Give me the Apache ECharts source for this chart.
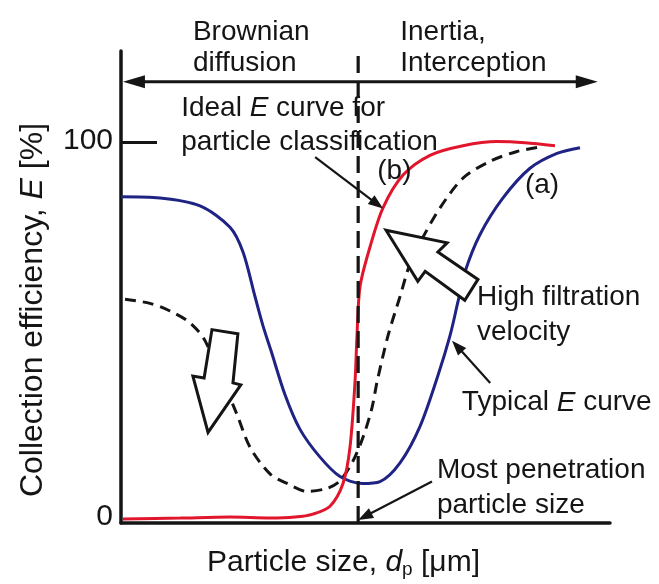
<!DOCTYPE html>
<html>
<head>
<meta charset="utf-8">
<script src="https://cdn.jsdelivr.net/npm/echarts@6/dist/echarts.min.js"></script>
<style>html,body{margin:0;padding:0;background:#fff}#c{width:659px;height:584px}</style>
</head>
<body>
<div id="c"></div>
<script>
// ---- Data (arbitrary particle-size units 0..100, efficiency %) ----
const typicalX = [0, 7.98, 16.16, 22.29, 24.95, 27.40, 29.04, 30.67, 33.54, 36.61, 40.70, 44.79, 49.28, 52.97, 57.06, 61.15, 64.83, 67.28, 68.92, 70.35, 73.42, 78.12, 83.64, 89.16, 93.87];
const typicalE = [85.7, 85.4, 83.3, 77.7, 71.2, 59.5, 51.8, 45.3, 33.7, 24.6, 17.3, 12.2, 10.4, 10.9, 15.8, 25.4, 38.8, 49.2, 58.2, 66.0, 75.8, 85.4, 93.2, 97.1, 98.6];

const idealX = [0.41, 12.07, 22.29, 30.47, 35.58, 39.26, 42.74, 45.40, 46.83, 47.85, 48.26, 48.88, 50.92, 53.58, 57.67, 63.19, 69.94, 76.89, 82.62, 88.75];
const idealE = [1.04, 1.29, 1.55, 1.29, 1.55, 2.33, 4.40, 10.35, 19.93, 37.0, 49.2, 62.1, 72.5, 82.8, 91.4, 96.6, 99.1, 100.2, 99.9, 99.1];

const highVelX = [0.82, 5.93, 10.02, 14.11, 17.18, 23.72, 26.38, 30.47, 33.95, 38.04, 42.13, 44.79, 47.44, 49.49, 51.33, 52.35, 54.60, 57.06, 59.10, 61.76, 65.24, 69.94, 75.46, 80.98, 86.30];
const highVelE = [58.8, 57.7, 55.7, 52.6, 47.9, 28.5, 19.9, 12.9, 10.4, 8.3, 9.1, 11.1, 16.3, 22.5, 30.3, 37.0, 49.2, 59.5, 68.1, 75.1, 82.8, 90.6, 95.0, 97.6, 98.9];

const yTickLabels = [0, 100];
const dividerX = 48.5;          // most penetrating particle size

// ---- Annotation anchors (data coordinates) ----
const regionArrow = { from: [0.4, 115.9], to: [97.5, 115.9] };
const textBlocks = [
  { lines: ['Brownian', 'diffusion'], at: [14.7, 128.9], gap: 31 },
  { lines: ['Inertia,', 'Interception'], at: [57.1, 128.9], gap: 31 },
  { lines: ['Ideal {i|E} curve for', 'particle classification'], at: [12.3, 109.0], gap: 34 },
  { lines: ['(b)'], at: [52.4, 92.5], gap: 0 },
  { lines: ['(a)'], at: [82.6, 88.6], gap: 0 },
  { lines: ['High filtration', 'velocity'], at: [72.8, 59.2], gap: 35 },
  { lines: ['Typical {i|E} curve'], at: [69.7, 31.6], gap: 0 },
  { lines: ['Most penetration', 'particle size'], at: [64.6, 13.8], gap: 35 }
];
const pointers = [
  { from: [39.7, 96.1], to: [53.6, 82.6] },
  { from: [75.5, 36.8], to: [67.7, 47.9] },
  { from: [63.6, 10.9], to: [48.5, 0.8] }
];
const blockArrows = [
  [[18.6, 50.8], [23.9, 49.7], [22.9, 36.8], [24.5, 36.3], [17.8, 23.8], [14.7, 38.6], [17.0, 38.1]],
  [[54.2, 76.9], [66.7, 73.6], [64.8, 71.2], [73.0, 64.0], [70.3, 58.5], [62.2, 66.1], [60.7, 63.5]]
];

const zip = (xs, ys) => xs.map((x, i) => [x, ys[i]]);
const FONT = '"Liberation Sans", Arial, Helvetica, sans-serif';
const INK = '#151515';

function arrowHead(a, b, len, half) {
  const dx = b[0] - a[0], dy = b[1] - a[1];
  const d = Math.hypot(dx, dy) || 1;
  const ux = dx / d, uy = dy / d;
  const bx = b[0] - ux * len, by = b[1] - uy * len;
  return [[b[0], b[1]], [bx - uy * half, by + ux * half], [bx + uy * half, by - ux * half]];
}

function renderAnnotations(params, api) {
  const P = p => api.coord(p);
  const ch = [];
  const d0 = P([dividerX, 0]), d1 = P([dividerX, 124.4]);
  ch.push({ type: 'line', shape: { x1: d0[0], y1: d0[1], x2: d1[0], y2: d1[1] },
    style: { stroke: INK, lineWidth: 3.2, lineDash: [17, 8] } });
  const r0 = P(regionArrow.from), r1 = P(regionArrow.to);
  ch.push({ type: 'line', shape: { x1: r0[0] + 14, y1: r0[1], x2: r1[0] - 14, y2: r1[1] },
    style: { stroke: INK, lineWidth: 3 } });
  ch.push({ type: 'polygon', shape: { points: arrowHead(r1, r0, 22, 6.5) }, style: { fill: INK } });
  ch.push({ type: 'polygon', shape: { points: arrowHead(r0, r1, 22, 6.5) }, style: { fill: INK } });
  pointers.forEach(p => {
    const a = P(p.from), b = P(p.to);
    const dx = b[0] - a[0], dy = b[1] - a[1], d = Math.hypot(dx, dy);
    ch.push({ type: 'line', shape: { x1: a[0], y1: a[1], x2: b[0] - dx / d * 10, y2: b[1] - dy / d * 10 },
      style: { stroke: INK, lineWidth: 2.2 } });
    ch.push({ type: 'polygon', shape: { points: arrowHead(a, b, 15, 5.5) }, style: { fill: INK } });
  });
  blockArrows.forEach(pts => {
    ch.push({ type: 'polygon', shape: { points: pts.map(P) },
      style: { fill: '#fff', stroke: INK, lineWidth: 3, lineJoin: 'miter' } });
  });
  textBlocks.forEach(t => {
    const p = P(t.at);
    t.lines.forEach((ln, i) => {
      ch.push({ type: 'text', x: p[0], y: p[1] + i * t.gap,
        style: { text: ln, fill: INK, fontSize: 28, fontFamily: FONT, align: 'left', verticalAlign: 'middle',
          rich: { i: { fontStyle: 'italic', fontSize: 28, fontFamily: FONT, fill: INK } } } });
    });
  });
  return { type: 'group', children: ch };
}

const chart = echarts.init(document.getElementById('c'), null, { renderer: 'canvas' });
chart.setOption({
  animation: false,
  backgroundColor: '#fff',
  grid: { left: 121, right: 49, top: 51, bottom: 54 },
  xAxis: {
    type: 'value', min: 0, max: 100,
    axisLine: { show: true, lineStyle: { color: INK, width: 3.5 } },
    axisTick: { show: false }, axisLabel: { show: false }, splitLine: { show: false },
    name: 'Particle size, {i|d}{s|p} [μm]', nameLocation: 'middle', nameGap: 23,
    nameTextStyle: { color: INK, fontSize: 30, fontFamily: FONT, verticalAlign: 'top', padding: [0, 44, 0, 0],
      rich: { i: { fontStyle: 'italic', fontSize: 30, fontFamily: FONT, color: INK },
              s: { fontSize: 19, fontFamily: FONT, color: INK, padding: [14, 0, 0, 0] } } }
  },
  yAxis: {
    type: 'value', min: 0, max: 124,
    axisLine: { show: true, lineStyle: { color: INK, width: 3.5 } },
    axisTick: { show: true, customValues: [100], inside: true, length: 36, lineStyle: { color: INK, width: 3 } },
    axisLabel: { show: true, customValues: yTickLabels, margin: 8, color: INK, fontSize: 30, fontFamily: FONT,
      formatter: v => v === 0 ? '{z|0}' : '{h|' + v + '}',
      rich: { z: { fontSize: 30, fontFamily: FONT, color: INK, padding: [0, 0, 12, 0] },
              h: { fontSize: 30, fontFamily: FONT, color: INK, padding: [0, 0, 4, 0] } } },
    splitLine: { show: false },
    name: 'Collection efficiency, {i|E} [%]', nameLocation: 'middle', nameGap: 72,
    nameTextStyle: { color: INK, fontSize: 32, fontFamily: FONT, padding: [0, 46, 0, 0],
      rich: { i: { fontStyle: 'italic', fontSize: 32, fontFamily: FONT, color: INK } } }
  },
  series: [
    { name: 'Typical E curve (a)', type: 'line', data: zip(typicalX, typicalE), smooth: 0.3,
      showSymbol: false, lineStyle: { color: '#1f2383', width: 3 }, z: 2 },
    { name: 'High filtration velocity', type: 'line', data: zip(highVelX, highVelE), smooth: 0.3,
      showSymbol: false, lineStyle: { color: INK, width: 3, type: [11, 7] }, z: 2 },
    { name: 'Ideal E curve (b)', type: 'line', data: zip(idealX, idealE), smooth: 0.3,
      showSymbol: false, lineStyle: { color: '#e1162c', width: 3 }, z: 2 },
    { type: 'custom', data: [[0, 0]], renderItem: renderAnnotations, z: 5, silent: true, clip: false }
  ]
});
</script>
</body>
</html>
